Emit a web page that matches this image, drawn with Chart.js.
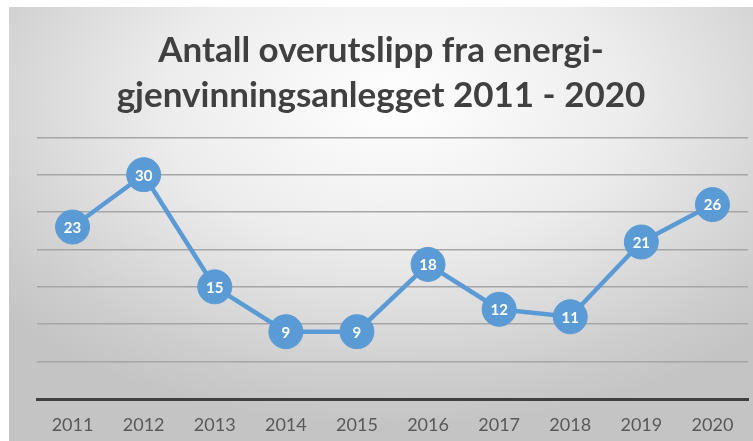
<!DOCTYPE html>
<html>
<head>
<meta charset="utf-8">
<script src="https://cdn.jsdelivr.net/npm/chart.js@4"></script>
<style>
  html, body { margin: 0; padding: 0; background: #fff; overflow: hidden; width: 753px; height: 441px; }
  #box {
    position: absolute; left: 9px; top: 7px; width: 744px; height: 434px; overflow: hidden;
    background: radial-gradient(ellipse 70% 75% at 52% 22%, #ffffff 0%, #ececec 45%, #cdcdcd 85%, #c4c4c4 100%);
  }
  canvas { display: block; }
</style>
</head>
<body>
<div id="box"><canvas id="c" width="744" height="434"></canvas></div>
<script>
const years = ['2011', '2012', '2013', '2014', '2015', '2016', '2017', '2018', '2019', '2020'];
const overutslipp = [23, 30, 15, 9, 9, 18, 12, 11, 21, 26];
const titleLines = ['Antall overutslipp fra energi-', 'gjenvinningsanlegget 2011 - 2020'];

// draws the value inside each point
const pointLabels = {
  id: 'pointLabels',
  afterDatasetsDraw(chart) {
    const ctx = chart.ctx;
    const meta = chart.getDatasetMeta(0);
    ctx.save();
    ctx.fillStyle = '#ffffff';
    ctx.font = 'bold 15px Lato';
    ctx.textAlign = 'center';
    ctx.textBaseline = 'middle';
    meta.data.forEach((pt, i) => {
      ctx.fillText(String(overutslipp[i]), pt.x, pt.y + 1);
    });
    ctx.restore();
  }
};

new Chart(document.getElementById('c'), {
  type: 'line',
  data: {
    labels: years,
    datasets: [{
      data: overutslipp,
      borderColor: '#5b9bd5',
      backgroundColor: '#5b9bd5',
      borderWidth: 4.5,
      pointRadius: 17,
      pointBorderWidth: 1,
      pointBorderColor: '#5b9bd5',
      pointBackgroundColor: '#5b9bd5',
      tension: 0
    }]
  },
  options: {
    responsive: false,
    animation: false,
    devicePixelRatio: 1,
    layout: { autoPadding: false, padding: { top: 21, left: 5, right: 5, bottom: 0 } },
    plugins: {
      legend: { display: false },
      tooltip: { enabled: false },
      title: {
        display: true,
        text: titleLines,
        color: '#404040',
        font: { family: 'Lato', size: 35, weight: 'bold', lineHeight: 1.29 },
        padding: { top: 0, bottom: 19 }
      }
    },
    scales: {
      x: {
        offset: true,
        grid: { display: false, drawTicks: false },
        border: { display: true, color: '#404040', width: 3 },
        ticks: { color: '#595959', padding: 15, font: { family: 'Lato', size: 18 } },
        afterFit: (s) => { s.height = 42; }
      },
      y: {
        min: 0,
        max: 35,
        ticks: { stepSize: 5, display: false },
        border: { display: false },
        afterFit: (s) => { s.width = 23; },
        grid: {
          drawTicks: false,
          color: (c) => c.tick.value === 0 ? 'rgba(0,0,0,0)' : '#a6a6a6',
          lineWidth: 1.5
        }
      }
    }
  },
  plugins: [pointLabels]
});
</script>
</body>
</html>
